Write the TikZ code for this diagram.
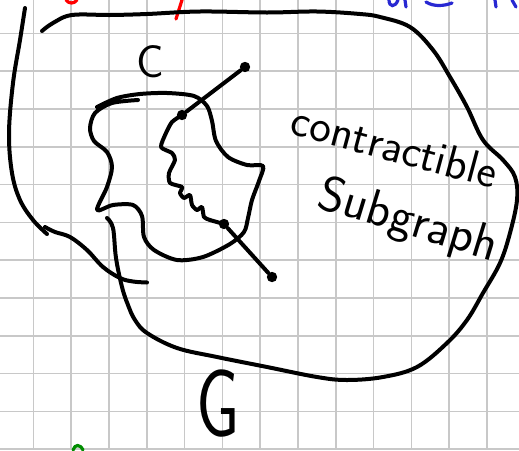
\documentclass[tikz,border=0pt]{standalone}
\definecolor{gridgray}{RGB}{200,200,200}
\definecolor{inkblue}{RGB}{40,40,210}
\definecolor{inkgreen}{RGB}{0,140,0}
\begin{document}
\begin{tikzpicture}[
    x=0.5pt, y=-0.5pt,
    pen/.style={line width=2pt, line cap=round, line join=round},
    scrap/.style={line width=1.6pt, line cap=round},
    gridline/.style={draw=gridgray, line width=0.8pt},
    dot/.style={circle, fill=black, inner sep=0pt, minimum size=5.2pt},
    hand/.style={font=\sffamily\fontsize{23}{30}\selectfont, inner sep=0pt}
]
\useasboundingbox (0,0) rectangle (519,450);
\fill[white] (0,0) rectangle (519,450);

% Squared paper
\foreach \i in {0,...,12}
    \draw[gridline] ({33.3+37.8*\i},0) -- ({33.3+37.8*\i},450);
\foreach \j in {0,...,11}
    \draw[gridline] (0,{33.3+37.8*\j}) -- (519,{33.3+37.8*\j});

% Cut-off strokes at the edges
\draw[scrap, red] (66,0) .. controls (69,4) and (74,4) .. (77,0);
\draw[scrap, red] (176,19) -- (182,0);
\draw[scrap, inkblue] (389,0) .. controls (389,7) and (395,8) .. (398,0);
\draw[scrap, inkblue] (405,0) -- (406,7);
\draw[scrap, inkblue] (426,2) .. controls (434,7) and (444,6) .. (452,3);
\draw[scrap, inkblue] (495,0) -- (496,7);
\draw[scrap, inkblue] (512,0) -- (516,7);
\draw[scrap, inkgreen] (73,450) .. controls (75,444) and (80,444) .. (83,450);

% Graph G
\draw[pen] plot[smooth, tension=0.6] coordinates {(25,8) (20,40) (13,83) (9,133)
    (12,173) (20,200) (33,220) (47,234)};
\draw[pen] plot[smooth, tension=0.6] coordinates {(45,227) (55,232) (70,237) (87,250)
    (103,267) (120,278) (133,281.5) (147,282.5)};
\draw[pen] plot[smooth, tension=0.6] coordinates {(107,218) (113,228) (116,258)
    (122,287) (128,305) (135,320) (147,333) (177,348) (217,357) (267,367) (317,377)
    (347,380) (383,377) (417,367) (447,343) (467,320) (483,293) (500,263) (510,233)
    (517,200) (515,177) (503,160) (483,140) (467,107) (450,77) (433,50) (410,27)
    (380,17) (360,14) (317,11.5) (267,12.5) (200,11.5) (147,14) (110,15) (72,15)
    (53,23) (42,31)};

% Cycle C
\draw[pen] plot[smooth, tension=0.5] coordinates {(138,100) (112,103) (95,113)
    (90,128) (94,141) (107,152) (112,167) (107,187) (97,210) (113,205) (133,205)
    (142,216) (144,237) (154,250) (177,260) (203,257) (230,244) (244,232) (248,218)
    (252,200) (259,181) (263,166) (247,165) (228,157) (216,141) (212,121) (207,106)
    (194,96) (167,93) (140,94) (117,98) (97,107)};

% Vertices
\node[dot] (vtop) at (245,67) {};
\node[dot] (vin) at (182,115) {};
\node[dot] (vlow) at (224,224) {};
\node[dot] (vbot) at (272,277) {};

% Edges
\draw[pen] (vtop) -- (vin);
\draw[pen] (vlow) -- (vbot);
\draw[pen] plot[smooth, tension=0.4] coordinates {(vin) (172,122) (166,133) (161,147)
    (172,153) (175,160) (169,173) (170,183) (182,187) (180,193) (184,198) (190,195)
    (192,205) (197,210) (202,207) (204,217) (210,220) (vlow)};

% Labels
\node[hand] (labC) at (150,62) {C};
\node[hand, font=\sffamily\fontsize{48}{50}\selectfont, xscale=0.72] (labG) at (218,404) {G};
\node[hand, rotate=-15] (labcon) at (395,146) {contractible};
\node[hand, font=\sffamily\fontsize{25}{30}\selectfont, rotate=-17] (labsub) at (408,222) {Subgraph};
\end{tikzpicture}
\end{document}
